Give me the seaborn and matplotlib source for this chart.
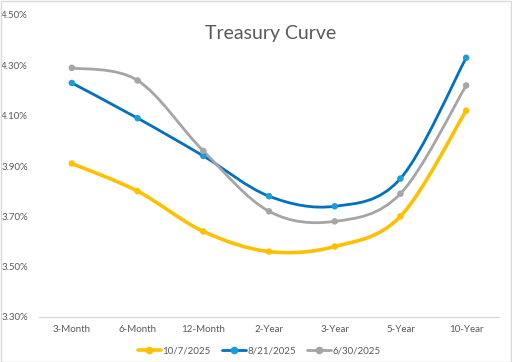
import numpy as np
import pandas as pd
import matplotlib
matplotlib.use("Agg")
import matplotlib.pyplot as plt
from matplotlib.path import Path
from matplotlib.patches import PathPatch
from matplotlib.lines import Line2D
import seaborn as sns

categories = ["3-Month", "6-Month", "12-Month", "2-Year", "3-Year", "5-Year", "10-Year"]
oct_7_2025 = [3.91, 3.80, 3.64, 3.56, 3.58, 3.70, 4.12]
aug_21_2025 = [4.23, 4.09, 3.94, 3.78, 3.74, 3.85, 4.33]
jun_30_2025 = [4.29, 4.24, 3.96, 3.72, 3.68, 3.79, 4.22]
series_names = ["10/7/2025", "8/21/2025", "6/30/2025"]
y_ticks = [3.30, 3.50, 3.70, 3.90, 4.10, 4.30, 4.50]

series_values = [oct_7_2025, aug_21_2025, jun_30_2025]
line_colors = ["#FFC000", "#0070C0", "#A5A5A5"]
marker_colors = ["#FFC000", "#1C9CDC", "#A5A5A5"]
line_widths = [2.6, 2.0, 2.0]

sns.set_theme(style="white")
plt.rcParams["font.family"] = ["Lato", "DejaVu Sans"]
text_color = "#595959"

rows = []
for name, vals in zip(series_names, series_values):
    for i, (c, v) in enumerate(zip(categories, vals)):
        rows.append({"series": name, "x": i, "category": c, "value": v})
df = pd.DataFrame(rows)

fig = plt.figure(figsize=(5.12, 3.62), dpi=100)
ax = fig.add_axes([39 / 512, 1 - 317 / 362, 460 / 512, 302 / 362])


def smooth_path(xs, ys):
    pts = np.column_stack([xs, ys]).astype(float)
    n = len(pts)
    verts = [pts[0]]
    codes = [Path.MOVETO]
    for i in range(n - 1):
        p0 = pts[i - 1] if i > 0 else pts[i]
        p1 = pts[i]
        p2 = pts[i + 1]
        p3 = pts[i + 2] if i + 2 < n else pts[i + 1]
        c1 = p1 + (p2 - p0) / 6.0
        c2 = p2 - (p3 - p1) / 6.0
        verts += [c1, c2, p2]
        codes += [Path.CURVE4] * 3
    return Path(verts, codes)


for name, lc, mc, lw in zip(series_names, line_colors, marker_colors, line_widths):
    sub = df[df["series"] == name]
    ax.add_patch(PathPatch(smooth_path(sub["x"].values, sub["value"].values),
                           facecolor="none", edgecolor=lc, lw=lw, zorder=2,
                           capstyle="round", joinstyle="round"))

sns.scatterplot(data=df, x="x", y="value", hue="series", palette=dict(zip(series_names, marker_colors)),
                s=22, edgecolor="none", legend=False, ax=ax, zorder=3)

ax.set_xlim(-0.5, len(categories) - 0.5)
ax.set_ylim(3.30, 4.50)
ax.set_xticks(range(len(categories)))
ax.set_xticklabels(categories)
ax.set_yticks(y_ticks)
ax.set_yticklabels([f"{t:.2f}%" for t in y_ticks])
ax.tick_params(axis="both", length=0, labelsize=7, colors=text_color)
ax.tick_params(axis="x", pad=6)
ax.tick_params(axis="y", pad=8)
ax.set_xlabel("")
ax.set_ylabel("")
for s in ["top", "right", "left"]:
    ax.spines[s].set_visible(False)
ax.spines["bottom"].set_color("#D9D9D9")
ax.spines["bottom"].set_linewidth(1.0)
ax.grid(False)

fig.text(271 / 512, 1 - 33 / 362, "Treasury Curve", ha="center", va="center",
         fontsize=14, color=text_color)

handles = [Line2D([0], [0], color=lc, lw=lw, marker="o", markersize=4.5,
                  markerfacecolor=mc, markeredgecolor=mc)
           for lc, mc, lw in zip(line_colors, marker_colors, line_widths)]
fig.legend(handles, series_names, loc="center", bbox_to_anchor=(259 / 512, 1 - 351 / 362),
           ncol=3, frameon=False, fontsize=7, labelcolor=text_color,
           handlelength=2.4, handletextpad=0.15, columnspacing=1.2)

border = plt.Rectangle((0.001, 0.001), 0.997, 0.996, transform=fig.transFigure,
                       fill=False, edgecolor="#D9D9D9", lw=1.0)
fig.patches.append(border)

fig.savefig("out.png", dpi=100)
